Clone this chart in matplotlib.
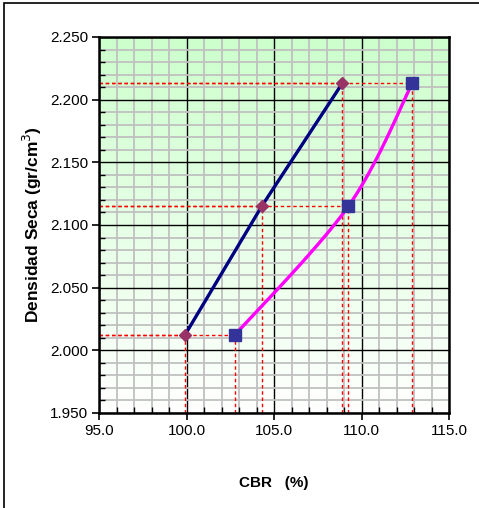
import numpy as np
import matplotlib
matplotlib.use("Agg")
import matplotlib.pyplot as plt
from matplotlib.patches import Rectangle
from matplotlib.ticker import MultipleLocator, FormatStrFormatter

plt.rcParams['font.family'] = ['Liberation Sans', 'DejaVu Sans']

# CBR test results
cbr_a = [99.9, 104.3, 108.9]        # diamond series
cbr_b = [102.75, 109.25, 112.9]     # square series
densidad = [2.012, 2.115, 2.213]    # dry density (gr/cm3)

xlim = (95.0, 115.0)
ylim = (1.950, 2.250)


def smooth_curve(xs, ys, xr, yr, n=60):
    """Bezier smoothing through points (Excel-style), in normalized units."""
    sx, sy = xr[1] - xr[0], yr[1] - yr[0]
    P = np.column_stack([(np.array(xs) - xr[0]) / sx, (np.array(ys) - yr[0]) / sy])
    pts = []
    m = len(P)
    for i in range(m - 1):
        p0 = P[max(i - 1, 0)]
        p1 = P[i]
        p2 = P[i + 1]
        p3 = P[min(i + 2, m - 1)]
        c1 = p1 + (p2 - p0) / 6.0
        c2 = p2 - (p3 - p1) / 6.0
        t = np.linspace(0, 1, n)[:, None]
        seg = ((1 - t) ** 3) * p1 + 3 * ((1 - t) ** 2) * t * c1 + 3 * (1 - t) * t ** 2 * c2 + t ** 3 * p2
        pts.append(seg if i == 0 else seg[1:])
    pts = np.vstack(pts)
    return pts[:, 0] * sx + xr[0], pts[:, 1] * sy + yr[0]


fig = plt.figure(figsize=(4.79, 5.08), dpi=100)
fig.patch.set_facecolor('white')

# chart-area frame
fig.add_artist(Rectangle((4 / 479, -0.1), 1.2, 1 - 3 / 508 + 0.1,
                         transform=fig.transFigure, fill=False,
                         edgecolor='black', linewidth=1.2))

ax = fig.add_axes([99 / 479, 1 - 413 / 508, 350 / 479, 376 / 508])
ax.set_xlim(*xlim)
ax.set_ylim(*ylim)

# green gradient plot background
grad = np.linspace(0, 1, 256)[:, None]
top = np.array([0.80, 1.0, 0.80])
bot = np.array([1.0, 1.0, 1.0])
img = bot + (top - bot) * grad
ax.imshow(img[:, None, :].repeat(2, axis=1), extent=[*xlim, *ylim],
          origin='lower', aspect='auto', zorder=0)

ax.xaxis.set_major_locator(MultipleLocator(5.0))
ax.xaxis.set_minor_locator(MultipleLocator(1.0))
ax.yaxis.set_major_locator(MultipleLocator(0.05))
ax.yaxis.set_minor_locator(MultipleLocator(0.01))
ax.xaxis.set_major_formatter(FormatStrFormatter('%.1f'))
ax.yaxis.set_major_formatter(FormatStrFormatter('%.3f'))

ax.grid(which='minor', color='#c0c0c0', linewidth=1.3, zorder=1)
ax.grid(which='major', color='black', linewidth=1.0, zorder=1)
ax.set_axisbelow(True)

ax.tick_params(which='major', direction='out', length=5, width=1.2,
               labelsize=11, colors='black', pad=3)
ax.tick_params(which='minor', direction='in', length=4, width=1.0)
for s in ax.spines.values():
    s.set_linewidth(1.8)
    s.set_color('black')
    s.set_zorder(5)

# red dashed reference lines
ref = dict(color='red', linestyle=(0, (2.5, 2)), linewidth=1.0, zorder=3)
for xs in (cbr_a, cbr_b):
    for x, y in zip(xs, densidad):
        ax.plot([x, x], [ylim[0], y], **ref)
        ax.plot([xlim[0], x], [y, y], **ref)

# series lines
ax.plot(cbr_a, densidad, color='#000080', linewidth=2.4, zorder=4,
        solid_capstyle='round')
cx, cy = smooth_curve(cbr_b, densidad, xlim, ylim)
ax.plot(cx, cy, color='#ff00ff', linewidth=2.4, zorder=4)

# markers
ax.plot(cbr_a, densidad, linestyle='none', marker='D', markersize=6.5,
        color='#993366', zorder=6, clip_on=False)
ax.plot(cbr_b, densidad, linestyle='none', marker='s', markersize=8.5,
        color='#333399', zorder=6, clip_on=False)

ax.set_xlabel('CBR   (%)', fontsize=11, fontweight='bold', labelpad=27)
ax.set_ylabel('Densidad Seca (gr/cm$^3$)', fontsize=12.5, fontweight='bold',
              labelpad=4)

fig.savefig('out.png', dpi=100)
